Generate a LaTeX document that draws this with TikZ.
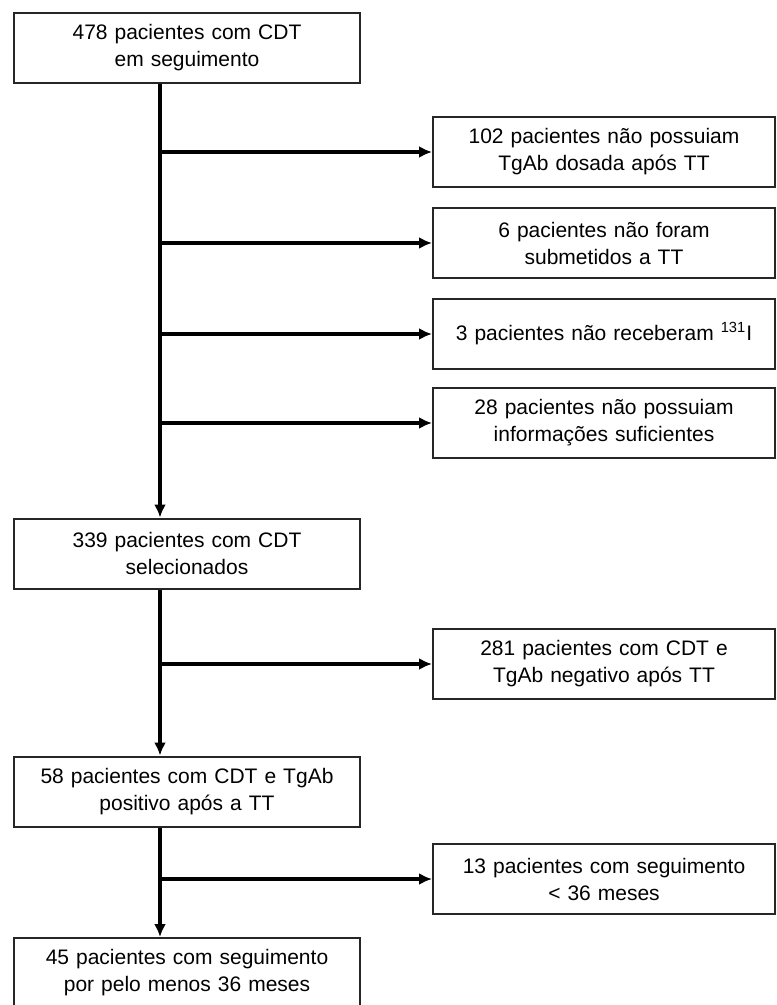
\documentclass[tikz,border=0pt]{standalone}
\usepackage{fontspec}
\setmainfont{Liberation Sans}
\usetikzlibrary{arrows.meta}
\usetikzlibrary{positioning}
\tikzstyle{stage} = [rectangle, minimum width=173pt, minimum height=35pt, text centered, text width=165pt, inner sep=0pt, draw=black!85, line width=1pt, fill=white, font=\fontsize{10.5}{13.5}\selectfont]
\tikzstyle{excluded} = [stage, minimum width=171pt]
\tikzstyle{arrow} = [line width=1.6pt,-{Latex[length=6.5pt,width=6pt]}]

\begin{document}
\begin{tikzpicture}[x=0.5pt, y=-0.5pt, node distance=2cm]
 \useasboundingbox (0,0) rectangle (776,1005);
 \node (follow) [stage] at (187,48) {478 pacientes com CDT\\em seguimento};
 \node (selected) [stage, below of=follow, node distance=252.75pt] {339 pacientes com CDT\\selecionados};
 \node (positive) [stage, below of=selected, node distance=119pt] {58 pacientes com CDT e TgAb\\positivo após a TT};
 \node (final) [stage, below of=positive, node distance=90.75pt] {45 pacientes com seguimento\\por pelo menos 36 meses};

 \node (noTgAb) [excluded] at (604,152) {102 pacientes não possuiam\\TgAb dosada após TT};
 \node (noTT) [excluded] at (604,243) {6 pacientes não foram\\submetidos a TT};
 \node (noIodine) [excluded] at (604,334) {3 pacientes não receberam \textsuperscript{131}I};
 \node (noInfo) [excluded] at (604,423) {28 pacientes não possuiam\\informações suficientes};
 \node (negative) [excluded] at (604,664) {281 pacientes com CDT e\\TgAb negativo após TT};
 \node (short) [excluded] at (604,879) {13 pacientes com seguimento\\< 36 meses};

 \coordinate (trunk) at (160,0);

 \draw [arrow] (follow.south -| trunk) -- (selected.north -| trunk);
 \draw [arrow] (selected.south -| trunk) -- (positive.north -| trunk);
 \draw [arrow] (positive.south -| trunk) -- (final.north -| trunk);

 \draw [arrow] (trunk |- noTgAb.west) -- (noTgAb.west);
 \draw [arrow] (trunk |- noTT.west) -- (noTT.west);
 \draw [arrow] (trunk |- noIodine.west) -- (noIodine.west);
 \draw [arrow] (trunk |- noInfo.west) -- (noInfo.west);
 \draw [arrow] (trunk |- negative.west) -- (negative.west);
 \draw [arrow] (trunk |- short.west) -- (short.west);
\end{tikzpicture}
\end{document}
